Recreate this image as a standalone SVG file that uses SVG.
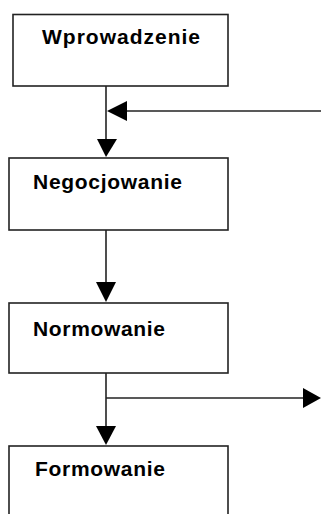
<svg xmlns="http://www.w3.org/2000/svg" width="321" height="514" viewBox="0 0 321 514">
<style>
.box{fill:#fff;stroke:#222;stroke-width:1.6}
.lbl{font-family:"Liberation Sans",Arial,sans-serif;font-weight:bold;font-size:21px;fill:#000}
.ln{stroke:#222;stroke-width:1.6;fill:none}
.ah{fill:#000;stroke:none}
</style>
<rect width="321" height="514" fill="#fff"/>
<g id="node-wprowadzenie">
<rect class="box" x="13" y="14.5" width="215" height="71.5"/>
<text class="lbl" x="42" y="43.5" textLength="158" lengthAdjust="spacing">Wprowadzenie</text>
</g>
<g id="node-negocjowanie">
<rect class="box" x="9" y="158" width="219" height="72"/>
<text class="lbl" x="33" y="188.5" textLength="149" lengthAdjust="spacing">Negocjowanie</text>
</g>
<g id="node-normowanie">
<rect class="box" x="9" y="303" width="219" height="70"/>
<text class="lbl" x="33" y="336" textLength="132" lengthAdjust="spacing">Normowanie</text>
</g>
<g id="node-formowanie">
<rect class="box" x="9" y="446" width="219" height="80"/>
<text class="lbl" x="35" y="476" textLength="130" lengthAdjust="spacing">Formowanie</text>
</g>
<g id="connectors">
<line class="ln" x1="106" y1="86" x2="106" y2="140"/>
<polygon class="ah" points="97,139 117,139 106,157"/>
<line class="ln" x1="321" y1="111" x2="126" y2="111"/>
<polygon class="ah" points="127,101 127,121 107,111"/>
<line class="ln" x1="106" y1="230" x2="106" y2="284"/>
<polygon class="ah" points="96,282 116,282 106,302"/>
<line class="ln" x1="106" y1="373" x2="106" y2="428"/>
<polygon class="ah" points="96,426 116,426 106,445"/>
<line class="ln" x1="106" y1="398" x2="305" y2="398"/>
<polygon class="ah" points="303,388 303,408 321,398"/>
</g>
</svg>
